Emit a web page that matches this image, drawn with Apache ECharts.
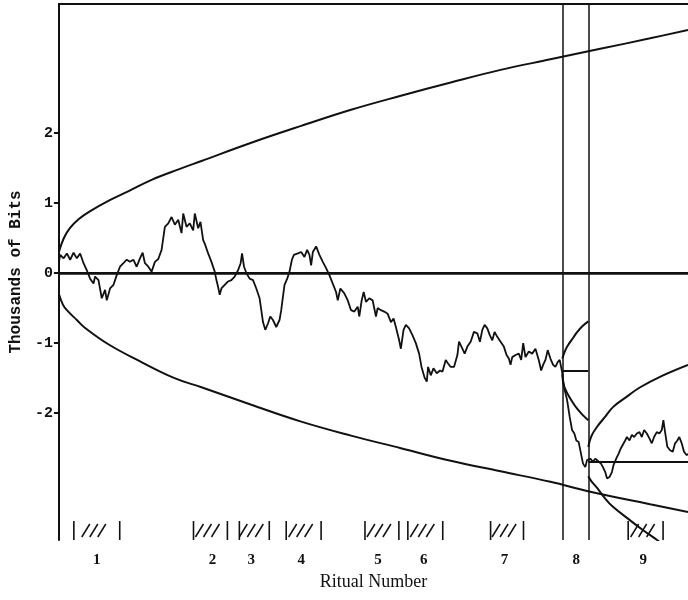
<!DOCTYPE html>
<html>
<head>
<meta charset="utf-8">
<script src="https://cdn.jsdelivr.net/npm/echarts@6/dist/echarts.min.js"></script>
<style>
  html, body { margin: 0; padding: 0; background: #fff; }
  #chart { width: 688px; height: 600px; }
</style>
</head>
<body>
<div id="chart"></div>
<script>
// cumulative deviation (thousands of bits) against trial index
const walk = [
  [0, 0.16], [1.3, 0.26], [4.7, 0.21], [8, 0.28], [11.3, 0.19], [14.7, 0.29], [18, 0.21], [21.3, 0.28],
  [24.7, 0.14], [28, 0.04], [31.3, -0.08], [34.7, -0.15], [36.3, -0.05], [39.7, -0.1], [43, -0.36],
  [46.3, -0.24], [48, -0.39], [51.3, -0.22], [54.7, -0.17], [58, -0.03], [61.3, 0.09], [64.7, 0.14],
  [68, 0.19], [71.3, 0.16], [74.7, 0.19], [78, 0.09], [81.3, 0.21], [84, 0.29], [86.3, 0.14], [89.7, 0.09],
  [93, 0.02], [96.3, 0.16], [99.7, 0.2], [103, 0.33], [106.3, 0.66], [109.7, 0.71], [113, 0.8],
  [116.3, 0.69], [119.7, 0.76], [123, 0.57], [124.7, 0.85], [128, 0.66], [131.3, 0.71], [134.7, 0.61],
  [136.3, 0.85], [139.7, 0.64], [142, 0.73], [144.7, 0.47], [146.3, 0.42], [149.7, 0.28], [153, 0.16],
  [156.3, 0.02], [158, -0.1], [159.7, -0.2], [161.3, -0.31], [163, -0.22], [166.3, -0.17], [169.7, -0.12],
  [173, -0.1], [176.3, -0.05], [179.7, 0.04], [182.3, 0.14], [183.7, 0.28], [185.7, 0.09], [188, 0],
  [191.3, -0.08], [194.7, -0.1], [198, -0.22], [201.3, -0.36], [203, -0.53], [204.7, -0.7], [207, -0.81],
  [209.7, -0.72], [212, -0.62], [214.7, -0.67], [218, -0.77], [221.3, -0.67], [223, -0.53], [224.7, -0.34],
  [226.3, -0.17], [229, -0.08], [231.3, 0.02], [233.7, 0.19], [235.7, 0.26], [239.7, 0.28], [243, 0.3],
  [246.3, 0.23], [249, 0.33], [251.3, 0.26], [253, 0.11], [254.7, 0.3], [258, 0.38], [261.3, 0.26],
  [264.7, 0.16], [268, 0.07], [271.3, -0.03], [274.7, -0.15], [278, -0.27], [279.7, -0.39], [282.3, -0.22],
  [286.3, -0.29], [289.7, -0.39], [293, -0.53], [296.3, -0.55], [299.7, -0.48], [301.3, -0.62],
  [303.7, -0.39], [305.7, -0.27], [308, -0.41], [311.3, -0.36], [314.7, -0.39], [316.3, -0.41],
  [318, -0.62], [319.7, -0.5], [323, -0.53], [326.3, -0.55], [329.7, -0.58], [333, -0.7], [335.7, -0.65],
  [338, -0.77], [341.3, -0.96], [343, -1.08], [345.7, -0.81], [348, -0.74], [351.3, -0.79], [354.7, -0.89],
  [358, -1.0], [361.3, -1.15], [363.7, -1.34], [365.7, -1.34], [367, -1.5], [369, -1.55], [370.3, -1.34],
  [373, -1.46], [375.7, -1.36], [379, -1.43], [382.3, -1.39], [384.7, -1.41], [388, -1.24], [390.3, -1.29],
  [393, -1.34], [396.3, -1.34], [399.7, -1.17], [401.3, -0.98], [404.7, -1.08], [407, -1.15],
  [409.7, -1.05], [413, -0.98], [416.3, -0.84], [419.7, -0.86], [422.3, -0.98], [424.7, -0.81],
  [427, -0.74], [429.7, -0.79], [432.3, -0.89], [434.7, -0.96], [437, -0.84], [439.7, -0.91], [443, -0.98],
  [446.3, -1.05], [449, -1.17], [451.3, -1.22], [453, -1.31], [454.7, -1.2], [458, -1.17], [461.3, -1.15],
  [463.7, -1.24], [465.7, -1.0], [468, -1.2], [471.3, -1.12], [474.7, -1.15], [478, -1.08], [481.3, -1.24],
  [483.7, -1.39], [485.7, -1.31], [488, -1.24], [490.3, -1.1], [493, -1.22], [495.7, -1.31], [498, -1.34],
  [500.3, -1.27], [502.3, -1.24], [503.7, -1.34], [504.7, -1.41], [505.7, -1.53], [507.3, -1.67],
  [509.7, -1.81], [512.3, -2.05], [514.7, -2.24], [517, -2.29], [519, -2.39], [521.3, -2.41], [523.7, -2.58],
  [525.7, -2.72], [528, -2.77], [529.7, -2.67], [530.3, -2.67], [533, -2.65], [535.7, -2.69], [538, -2.65],
  [541.3, -2.69], [543.7, -2.72], [545.7, -2.77], [548, -2.84], [549.7, -2.93], [552.3, -2.91],
  [554.7, -2.84], [556.3, -2.74], [559, -2.65], [561.3, -2.58], [563.7, -2.5], [565.7, -2.48], [568, -2.39],
  [569.7, -2.34], [572.3, -2.39], [574.7, -2.31], [577, -2.34], [579.7, -2.29], [582.3, -2.27],
  [584.7, -2.34], [587, -2.24], [589.7, -2.29], [592.3, -2.36], [594.7, -2.43], [597, -2.34], [599.7, -2.27],
  [602.3, -2.29], [604.7, -2.24], [606.3, -2.1], [608, -2.27], [610.3, -2.48], [613, -2.53], [615.7, -2.55],
  [618, -2.43], [620.3, -2.39], [622.3, -2.34], [624.7, -2.43], [627, -2.55], [629.7, -2.6], [631, -2.58]
];

// probability envelopes
const mainUpper = [
  [0, 0.3], [5, 0.5], [11, 0.64], [20, 0.77], [31, 0.88], [51, 1.04], [70, 1.17], [93, 1.33], [120, 1.48],
  [143, 1.6], [193, 1.86], [243, 2.1], [293, 2.33], [343, 2.53], [393, 2.72], [443, 2.9], [493, 3.05],
  [543, 3.2], [593, 3.35], [631, 3.47]
];
const mainLower = [
  [0, -0.3], [4, -0.45], [8, -0.53], [18, -0.67], [26, -0.78], [50, -1.02], [80, -1.25], [116, -1.5],
  [143, -1.63], [193, -1.88], [243, -2.12], [293, -2.32], [343, -2.5], [393, -2.68], [443, -2.83],
  [493, -2.98], [533, -3.12], [593, -3.3], [631, -3.41]
];
const upper8 = [[505, -1.22], [508, -1.1], [512, -1.0], [516, -0.92], [520, -0.84], [525, -0.76], [531, -0.69]];
const lower8 = [[505, -1.45], [506, -1.58], [508, -1.66], [512, -1.77], [516, -1.86], [520, -1.94], [525, -2.02], [531, -2.1]];
const upper9 = [[531, -2.48], [534, -2.33], [540, -2.19], [548, -2.05], [556, -1.91], [570, -1.76], [583, -1.63], [606, -1.46], [631, -1.31]];
const lower9 = [[531, -2.9], [534, -2.97], [540, -3.07], [548, -3.22], [556, -3.34], [573, -3.53], [586, -3.67], [600, -3.81], [615, -3.97]];

// rituals
const ritualNames = ['1', '2', '3', '4', '5', '6', '7', '8', '9'];
const ritualLabelAt = [38, 154, 193, 243, 320, 366, 447, 519, 586];
const ritualSpans = [[15, 61], [135, 169], [181, 211], [228, 263], [307, 341], [350, 385], [433, 466], [571, 606]];
const restartAt = [505, 531];
const restartLevel = [-1.4, -2.69];
const segmentEnd = [531, 631];

const yTicks = [-2, -1, 0, 1, 2];
const X_MAX = 631;
const Y_MIN = -3.81;
const Y_MAX = 3.84;

const chart = echarts.init(document.getElementById('chart'));

const ink = '#111';
const curve = (data, width) => ({
  type: 'line',
  data,
  smooth: 0.4,
  showSymbol: false,
  silent: true,
  clip: true,
  lineStyle: { color: ink, width },
  z: 3
});

const option = {
  backgroundColor: '#fff',
  animation: false,
  grid: { left: 57, right: 0, top: 4, bottom: 60, containLabel: false },
  xAxis: [
    {
      type: 'value',
      min: 0,
      max: X_MAX,
      position: 'bottom',
      axisLine: { lineStyle: { color: ink, width: 2 } },
      axisTick: { show: false },
      splitLine: { show: false },
      axisLabel: {
        customValues: ritualLabelAt,
        formatter: (v) => ritualNames[ritualLabelAt.indexOf(v)] || '',
        color: ink,
        fontFamily: 'Liberation Serif',
        fontWeight: 'bold',
        fontSize: 15,
        margin: 13
      },
      name: 'Ritual Number',
      nameLocation: 'middle',
      nameGap: 33,
      nameTextStyle: { color: ink, fontFamily: 'Liberation Serif', fontSize: 18 }
    },
    {
      type: 'value',
      min: 0,
      max: X_MAX,
      position: 'top',
      axisLine: { lineStyle: { color: ink, width: 2 } },
      axisTick: { show: false },
      axisLabel: { show: false },
      splitLine: { show: false }
    }
  ],
  yAxis: {
    type: 'value',
    min: Y_MIN,
    max: Y_MAX,
    axisLine: { show: true, lineStyle: { color: ink, width: 2 } },
    axisTick: { show: true, customValues: yTicks, length: 5, lineStyle: { color: ink, width: 2 } },
    axisLabel: {
      customValues: yTicks,
      color: ink,
      fontFamily: 'Liberation Mono',
      fontWeight: 'bold',
      fontSize: 15,
      margin: 6
    },
    splitLine: { show: false },
    name: 'Thousands of Bits',
    nameLocation: 'middle',
    nameGap: 30,
    nameTextStyle: { color: ink, fontFamily: 'Liberation Mono', fontWeight: 'bold', fontSize: 16 }
  },
  series: [
    {
      type: 'line',
      data: walk,
      showSymbol: false,
      silent: true,
      lineStyle: { color: ink, width: 1.8 },
      z: 4,
      markLine: {
        symbol: 'none',
        silent: true,
        label: { show: false },
        lineStyle: { color: ink, type: 'solid', width: 2 },
        data: [
          { yAxis: 0, lineStyle: { width: 2.5 } },
          ...restartAt.map((x) => ({ xAxis: x, lineStyle: { width: 1.5 } })),
          ...restartAt.map((x, i) => [
            { coord: [x, restartLevel[i]] },
            { coord: [segmentEnd[i], restartLevel[i]] }
          ])
        ]
      }
    },
    curve(mainUpper, 2),
    curve(mainLower, 2),
    curve(upper8, 2),
    curve(lower8, 2),
    curve(upper9, 2),
    curve(lower9, 2),
    {
      // ritual spans: end ticks and hatching above the axis
      type: 'custom',
      data: ritualSpans,
      encode: { x: [0, 1] },
      silent: true,
      z: 5,
      renderItem: (params, api) => {
        const bottom = params.coordSys.y + params.coordSys.height;
        const sx = api.coord([api.value(0), Y_MIN])[0];
        const ex = api.coord([api.value(1), Y_MIN])[0];
        const style = { stroke: ink, lineWidth: 1.6 };
        const children = [
          { type: 'line', shape: { x1: sx, y1: bottom, x2: sx, y2: bottom - 19 }, style },
          { type: 'line', shape: { x1: ex, y1: bottom, x2: ex, y2: bottom - 19 }, style }
        ];
        const n = 3;
        const mid = (sx + ex) / 2;
        for (let i = 0; i < n; i++) {
          const x = mid - 11 + i * 8;
          children.push({
            type: 'line',
            shape: { x1: x - 4, y1: bottom - 3, x2: x + 4, y2: bottom - 16 },
            style: { stroke: ink, lineWidth: 1.5 }
          });
        }
        return { type: 'group', children };
      }
    }
  ]
};

chart.setOption(option);
window.addEventListener('resize', () => chart.resize());
</script>
</body>
</html>
